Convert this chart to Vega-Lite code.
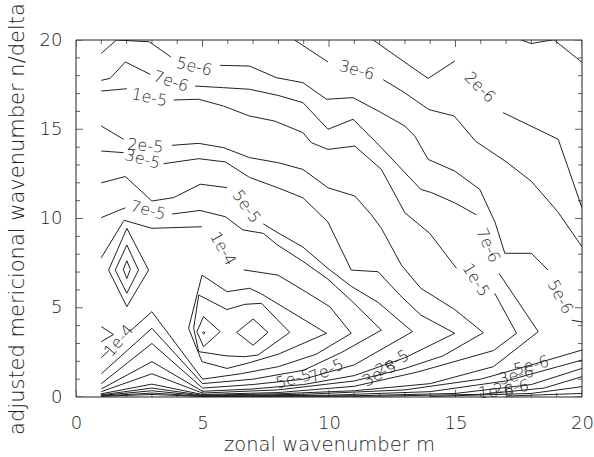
{
  "$schema": "https://vega.github.io/schema/vega-lite/v6.json",
  "width": 506,
  "height": 357,
  "autosize": "none",
  "padding": {"left": 76, "top": 40, "right": 12, "bottom": 60},
  "background": "white",
  "config": {
    "view": {"stroke": null},
    "font": "DejaVu Sans",
    "axis": {"ticks": false, "domain": false, "grid": false, "labelFlush": false, "labelFontSize": 18, "labelFontWeight": 200, "labelColor": "#222", "titleFontWeight": 200, "titleColor": "#222"},
    "axisBottom": {"labelPadding": 17, "titleFontSize": 19.5, "titlePadding": 3},
    "axisLeft": {"labelPadding": 14, "titleFontSize": 21, "titlePadding": 12}
  },
  "datasets": {
    "lines": [
      {"c":"t1","i":0,"m":17.6,"n":20},{"c":"t1","i":1,"m":18.0,"n":19.8},{"c":"t1","i":2,"m":18.6,"n":19.95},{"c":"t1","i":3,"m":18.85,"n":20},
      {"c":"t2","i":0,"m":18.9,"n":20},{"c":"t2","i":1,"m":20,"n":18.75},

      {"c":"a2e6","i":0,"m":11.75,"n":20},{"c":"a2e6","i":1,"m":13.39,"n":18.36},{"c":"a2e6","i":2,"m":13.92,"n":17.85},{"c":"a2e6","i":3,"m":14.97,"n":18.82},
      {"c":"b2e6","i":0,"m":16.88,"n":15.93},{"c":"b2e6","i":1,"m":19.06,"n":14.44},{"c":"b2e6","i":2,"m":20,"n":10.6},

      {"c":"a3e6","i":0,"m":8.64,"n":20},{"c":"a3e6","i":1,"m":9.96,"n":18.77},
      {"c":"b3e6","i":0,"m":12.14,"n":17.78},{"c":"b3e6","i":1,"m":12.93,"n":17.1},{"c":"b3e6","i":2,"m":13.95,"n":16.1},{"c":"b3e6","i":3,"m":14.95,"n":15.74},{"c":"b3e6","i":4,"m":15.8,"n":14.32},{"c":"b3e6","i":5,"m":17.0,"n":13.18},{"c":"b3e6","i":6,"m":18.0,"n":12.08},{"c":"b3e6","i":7,"m":19.03,"n":10.4},{"c":"b3e6","i":8,"m":20,"n":8.42},

      {"c":"a5e6","i":0,"m":1,"n":19.25},{"c":"a5e6","i":1,"m":1.6,"n":20},{"c":"a5e6","i":2,"m":2.9,"n":19.9},{"c":"a5e6","i":3,"m":3.75,"n":19.05},
      {"c":"b5e6","i":0,"m":5.7,"n":18.58},{"c":"b5e6","i":1,"m":6.86,"n":18.54},{"c":"b5e6","i":2,"m":7.92,"n":17.89},{"c":"b5e6","i":3,"m":8.97,"n":17.61},{"c":"b5e6","i":4,"m":9.9,"n":16.68},{"c":"b5e6","i":5,"m":10.95,"n":16.77},{"c":"b5e6","i":6,"m":12.07,"n":15.93},{"c":"b5e6","i":7,"m":13.0,"n":15.18},{"c":"b5e6","i":8,"m":13.4,"n":14.6},{"c":"b5e6","i":9,"m":13.92,"n":13.31},{"c":"b5e6","i":10,"m":14.97,"n":12.66},{"c":"b5e6","i":11,"m":15.96,"n":11.63},{"c":"b5e6","i":12,"m":16.56,"n":9.8},{"c":"b5e6","i":13,"m":16.95,"n":8.05},{"c":"b5e6","i":14,"m":18.0,"n":8.05},{"c":"b5e6","i":15,"m":18.66,"n":7.11},
      {"c":"c5e6","i":0,"m":19.6,"n":4.3},{"c":"c5e6","i":1,"m":20,"n":4.2},

      {"c":"a7e6","i":0,"m":1,"n":17.74},{"c":"a7e6","i":1,"m":1.35,"n":17.85},{"c":"a7e6","i":2,"m":1.95,"n":18.77},{"c":"a7e6","i":3,"m":2.93,"n":18.08},
      {"c":"b7e6","i":0,"m":4.71,"n":17.42},{"c":"b7e6","i":1,"m":5.83,"n":17.33},{"c":"b7e6","i":2,"m":6.86,"n":17.24},{"c":"b7e6","i":3,"m":7.98,"n":16.9},{"c":"b7e6","i":4,"m":8.97,"n":16.49},{"c":"b7e6","i":5,"m":9.96,"n":15.0},{"c":"b7e6","i":6,"m":10.95,"n":15.56},{"c":"b7e6","i":7,"m":11.94,"n":14.16},{"c":"b7e6","i":8,"m":13.0,"n":12.57},{"c":"b7e6","i":9,"m":13.63,"n":11.63},{"c":"b7e6","i":10,"m":14.05,"n":11.45},{"c":"b7e6","i":11,"m":14.97,"n":10.88},{"c":"b7e6","i":12,"m":15.83,"n":10.2},
      {"c":"c7e6","i":0,"m":16.72,"n":6.93},{"c":"c7e6","i":1,"m":18.27,"n":3.66},{"c":"c7e6","i":2,"m":16.5,"n":1.7},{"c":"c7e6","i":3,"m":14,"n":0.75},{"c":"c7e6","i":4,"m":11,"n":0.35},{"c":"c7e6","i":5,"m":8,"n":0.18},{"c":"c7e6","i":6,"m":5,"n":0.1},{"c":"c7e6","i":7,"m":3,"n":0.5},{"c":"c7e6","i":8,"m":1,"n":0.12},

      {"c":"a1e5","i":0,"m":1,"n":17.14},{"c":"a1e5","i":1,"m":2.01,"n":17.27},
      {"c":"b1e5","i":0,"m":3.86,"n":16.64},{"c":"b1e5","i":1,"m":4.85,"n":16.68},{"c":"b1e5","i":2,"m":5.83,"n":16.3},{"c":"b1e5","i":3,"m":6.86,"n":15.74},{"c":"b1e5","i":4,"m":7.85,"n":15.46},{"c":"b1e5","i":5,"m":8.97,"n":14.81},{"c":"b1e5","i":6,"m":9.3,"n":14.25},{"c":"b1e5","i":7,"m":9.96,"n":13.87},{"c":"b1e5","i":8,"m":11.02,"n":14.06},{"c":"b1e5","i":9,"m":12.07,"n":12.75},{"c":"b1e5","i":10,"m":13.0,"n":10.32},{"c":"b1e5","i":11,"m":13.98,"n":9.17},{"c":"b1e5","i":12,"m":15.04,"n":7.21},
      {"c":"c1e5","i":0,"m":16.55,"n":5.81},{"c":"c1e5","i":1,"m":17.41,"n":3.57},{"c":"c1e5","i":2,"m":16.5,"n":2.6},{"c":"c1e5","i":3,"m":13.5,"n":1.4},{"c":"c1e5","i":4,"m":11,"n":0.6},{"c":"c1e5","i":5,"m":8,"n":0.25},{"c":"c1e5","i":6,"m":5,"n":0.14},{"c":"c1e5","i":7,"m":3,"n":0.72},{"c":"c1e5","i":8,"m":1,"n":0.18},

      {"c":"a2e5","i":0,"m":1,"n":15.18},{"c":"a2e5","i":1,"m":1.88,"n":14.44},
      {"c":"b2e5","i":0,"m":3.79,"n":14.1},{"c":"b2e5","i":1,"m":4.85,"n":14.21},{"c":"b2e5","i":2,"m":5.83,"n":13.97},{"c":"b2e5","i":3,"m":6.86,"n":13.41},{"c":"b2e5","i":4,"m":7.98,"n":13.13},{"c":"b2e5","i":5,"m":8.97,"n":12.75},{"c":"b2e5","i":6,"m":9.96,"n":11.72},{"c":"b2e5","i":7,"m":11.02,"n":11.26},{"c":"b2e5","i":8,"m":11.68,"n":10.2},{"c":"b2e5","i":9,"m":12.07,"n":9.45},{"c":"b2e5","i":10,"m":12.86,"n":7.39},{"c":"b2e5","i":11,"m":13.63,"n":6.09},{"c":"b2e5","i":12,"m":14.97,"n":4.9},{"c":"b2e5","i":13,"m":16.1,"n":3.6},{"c":"b2e5","i":14,"m":14.5,"n":2.3},{"c":"b2e5","i":15,"m":13,"n":1.6},{"c":"b2e5","i":16,"m":11,"n":0.9},{"c":"b2e5","i":17,"m":8,"n":0.4},{"c":"b2e5","i":18,"m":5,"n":0.22},{"c":"b2e5","i":19,"m":3,"n":1.3},{"c":"b2e5","i":20,"m":1,"n":0.3},

      {"c":"a3e5","i":0,"m":1,"n":13.78},{"c":"a3e5","i":1,"m":1.88,"n":13.69},
      {"c":"b3e5","i":0,"m":3.46,"n":13.07},{"c":"b3e5","i":1,"m":4.85,"n":13.35},{"c":"b3e5","i":2,"m":5.9,"n":13.17},{"c":"b3e5","i":3,"m":6.86,"n":12.3},{"c":"b3e5","i":4,"m":7.98,"n":11.72},{"c":"b3e5","i":5,"m":8.97,"n":11.16},{"c":"b3e5","i":6,"m":9.96,"n":9.8},{"c":"b3e5","i":7,"m":10.88,"n":7.11},{"c":"b3e5","i":8,"m":11.94,"n":7.02},{"c":"b3e5","i":9,"m":12.8,"n":5.71},{"c":"b3e5","i":10,"m":13.63,"n":4.59},{"c":"b3e5","i":11,"m":14.97,"n":3.57},{"c":"b3e5","i":12,"m":13,"n":2.2},{"c":"b3e5","i":13,"m":11,"n":1.2},{"c":"b3e5","i":14,"m":9,"n":0.7},{"c":"b3e5","i":15,"m":7,"n":0.45},{"c":"b3e5","i":16,"m":5,"n":0.32},{"c":"b3e5","i":17,"m":3,"n":1.98},{"c":"b3e5","i":18,"m":1,"n":0.45},

      {"c":"a5e5","i":0,"m":1,"n":12.0},{"c":"a5e5","i":1,"m":1.95,"n":12.35},{"c":"a5e5","i":2,"m":3.0,"n":10.98},{"c":"a5e5","i":3,"m":3.86,"n":11.17},{"c":"a5e5","i":4,"m":4.91,"n":11.92},{"c":"a5e5","i":5,"m":5.97,"n":11.73},
      {"c":"b5e5","i":0,"m":7.4,"n":9.7},{"c":"b5e5","i":1,"m":7.98,"n":9.2},{"c":"b5e5","i":2,"m":8.97,"n":8.4},{"c":"b5e5","i":3,"m":9.96,"n":7.2},{"c":"b5e5","i":4,"m":10.88,"n":6.2},{"c":"b5e5","i":5,"m":11.94,"n":5.3},{"c":"b5e5","i":6,"m":13.3,"n":3.66},{"c":"b5e5","i":7,"m":11,"n":1.8},{"c":"b5e5","i":8,"m":9,"n":1.0},{"c":"b5e5","i":9,"m":7,"n":0.7},{"c":"b5e5","i":10,"m":5,"n":0.5},{"c":"b5e5","i":11,"m":3,"n":3.0},{"c":"b5e5","i":12,"m":1,"n":0.75},

      {"c":"a7e5","i":0,"m":1,"n":10.05},{"c":"a7e5","i":1,"m":1.95,"n":10.6},
      {"c":"b7e5","i":0,"m":3.79,"n":10.25},{"c":"b7e5","i":1,"m":4.9,"n":10.45},{"c":"b7e5","i":2,"m":5.9,"n":10.1},{"c":"b7e5","i":3,"m":6.6,"n":9.36},{"c":"b7e5","i":4,"m":7.4,"n":9.17},{"c":"b7e5","i":5,"m":7.98,"n":8.5},{"c":"b7e5","i":6,"m":8.97,"n":7.6},{"c":"b7e5","i":7,"m":9.96,"n":6.6},{"c":"b7e5","i":8,"m":10.88,"n":5.4},{"c":"b7e5","i":9,"m":12.07,"n":3.75},{"c":"b7e5","i":10,"m":10.5,"n":2.5},{"c":"b7e5","i":11,"m":9,"n":1.5},{"c":"b7e5","i":12,"m":7,"n":1.0},{"c":"b7e5","i":13,"m":5,"n":0.75},{"c":"b7e5","i":14,"m":3,"n":3.85},{"c":"b7e5","i":15,"m":1,"n":1.3},

      {"c":"a1e4","i":0,"m":1,"n":7.8},{"c":"a1e4","i":1,"m":1.9,"n":9.9},{"c":"a1e4","i":2,"m":3.0,"n":9.45},{"c":"a1e4","i":3,"m":4.98,"n":9.54},
      {"c":"b1e4","i":0,"m":6.63,"n":7.12},{"c":"b1e4","i":1,"m":7.98,"n":6.83},{"c":"b1e4","i":2,"m":8.97,"n":5.99},{"c":"b1e4","i":3,"m":10.03,"n":5.06},{"c":"b1e4","i":4,"m":10.88,"n":3.57},{"c":"b1e4","i":5,"m":9.5,"n":2.4},{"c":"b1e4","i":6,"m":8,"n":1.7},{"c":"b1e4","i":7,"m":6.5,"n":1.3},{"c":"b1e4","i":8,"m":5,"n":1.0},{"c":"b1e4","i":9,"m":3,"n":4.78},{"c":"b1e4","i":10,"m":2.15,"n":3.7},
      {"c":"c1e4","i":0,"m":1.3,"n":2.6},{"c":"c1e4","i":1,"m":1,"n":2.2},

      {"c":"p2a","i":0,"m":4.98,"n":6.83},{"c":"p2a","i":1,"m":5.97,"n":5.9},{"c":"p2a","i":2,"m":6.86,"n":6.09},{"c":"p2a","i":3,"m":7.3,"n":5.8},{"c":"p2a","i":4,"m":9.9,"n":3.57},{"c":"p2a","i":5,"m":8,"n":2.4},{"c":"p2a","i":6,"m":6.8,"n":1.9},{"c":"p2a","i":7,"m":5.97,"n":1.6},{"c":"p2a","i":8,"m":4.98,"n":1.98},{"c":"p2a","i":9,"m":4.45,"n":3.85},{"c":"p2a","i":10,"m":4.98,"n":6.83},
      {"c":"p2b","i":0,"m":4.85,"n":5.71},{"c":"p2b","i":1,"m":5.97,"n":4.9},{"c":"p2b","i":2,"m":6.67,"n":5.19},{"c":"p2b","i":3,"m":7.33,"n":5.25},{"c":"p2b","i":4,"m":8.45,"n":3.62},{"c":"p2b","i":5,"m":7.19,"n":2.35},{"c":"p2b","i":6,"m":6.67,"n":2.26},{"c":"p2b","i":7,"m":5.97,"n":2.3},{"c":"p2b","i":8,"m":4.85,"n":2.54},{"c":"p2b","i":9,"m":4.65,"n":3.85},{"c":"p2b","i":10,"m":4.85,"n":5.71},
      {"c":"p2c","i":0,"m":4.78,"n":3.66},{"c":"p2c","i":1,"m":5.04,"n":4.5},{"c":"p2c","i":2,"m":5.7,"n":3.66},{"c":"p2c","i":3,"m":5.04,"n":2.82},{"c":"p2c","i":4,"m":4.78,"n":3.66},
      {"c":"p2d","i":0,"m":6.35,"n":3.62},{"c":"p2d","i":1,"m":7.0,"n":4.37},{"c":"p2d","i":2,"m":7.59,"n":3.62},{"c":"p2d","i":3,"m":7.0,"n":2.9},{"c":"p2d","i":4,"m":6.35,"n":3.62},
      {"c":"p2e","i":0,"m":5.0,"n":3.6},{"c":"p2e","i":1,"m":5.05,"n":3.66},{"c":"p2e","i":2,"m":5.1,"n":3.6},{"c":"p2e","i":3,"m":5.05,"n":3.54},{"c":"p2e","i":4,"m":5.0,"n":3.6},

      {"c":"p1a","i":0,"m":1.29,"n":7.11},{"c":"p1a","i":1,"m":2.01,"n":9.45},{"c":"p1a","i":2,"m":2.87,"n":7.11},{"c":"p1a","i":3,"m":2.01,"n":5.06},{"c":"p1a","i":4,"m":1.29,"n":7.11},
      {"c":"p1b","i":0,"m":1.55,"n":7.11},{"c":"p1b","i":1,"m":2.01,"n":8.52},{"c":"p1b","i":2,"m":2.47,"n":7.11},{"c":"p1b","i":3,"m":2.01,"n":5.81},{"c":"p1b","i":4,"m":1.55,"n":7.11},
      {"c":"p1c","i":0,"m":1.87,"n":7.15},{"c":"p1c","i":1,"m":2.01,"n":7.63},{"c":"p1c","i":2,"m":2.15,"n":7.15},{"c":"p1c","i":3,"m":2.01,"n":6.64},{"c":"p1c","i":4,"m":1.87,"n":7.15},
      {"c":"lft","i":0,"m":1,"n":3.94},{"c":"lft","i":1,"m":1.48,"n":3.5},{"c":"lft","i":2,"m":1,"n":3.1},

      {"c":"l5e6","i":0,"m":1,"n":0.09},{"c":"l5e6","i":1,"m":3,"n":0.35},{"c":"l5e6","i":2,"m":5,"n":0.07},{"c":"l5e6","i":3,"m":9,"n":0.15},{"c":"l5e6","i":4,"m":13,"n":0.4},{"c":"l5e6","i":5,"m":16,"n":1.0},{"c":"l5e6","i":6,"m":18,"n":1.8},{"c":"l5e6","i":7,"m":20,"n":2.63},
      {"c":"l3e6","i":0,"m":1,"n":0.06},{"c":"l3e6","i":1,"m":3,"n":0.22},{"c":"l3e6","i":2,"m":5,"n":0.05},{"c":"l3e6","i":3,"m":10,"n":0.1},{"c":"l3e6","i":4,"m":14,"n":0.3},{"c":"l3e6","i":5,"m":17,"n":0.9},{"c":"l3e6","i":6,"m":20,"n":2.07},
      {"c":"l2e6","i":0,"m":1,"n":0.04},{"c":"l2e6","i":1,"m":3,"n":0.14},{"c":"l2e6","i":2,"m":5,"n":0.03},{"c":"l2e6","i":3,"m":11,"n":0.07},{"c":"l2e6","i":4,"m":15,"n":0.2},{"c":"l2e6","i":5,"m":18,"n":0.7},{"c":"l2e6","i":6,"m":20,"n":1.6},
      {"c":"l1e6","i":0,"m":5,"n":0.02},{"c":"l1e6","i":1,"m":12,"n":0.05},{"c":"l1e6","i":2,"m":16,"n":0.15},{"c":"l1e6","i":3,"m":18.5,"n":0.5},{"c":"l1e6","i":4,"m":20,"n":1.14},
      {"c":"l8e7","i":0,"m":14,"n":0.03},{"c":"l8e7","i":1,"m":18,"n":0.2},{"c":"l8e7","i":2,"m":20,"n":0.58},
      {"c":"l5e7","i":0,"m":17,"n":0.05},{"c":"l5e7","i":1,"m":20,"n":0.2}
    ],
    "labels": [
      {"t":"2e-6","m":15.96,"n":17.34,"tilt":45},
      {"t":"3e-6","m":11.1,"n":18.3,"tilt":15},
      {"t":"5e-6","m":4.67,"n":18.5,"tilt":13},
      {"t":"5e-6","m":19.13,"n":5.6,"tilt":62},
      {"t":"7e-6","m":3.75,"n":17.67,"tilt":18},
      {"t":"7e-6","m":16.28,"n":8.5,"tilt":66},
      {"t":"1e-5","m":2.9,"n":16.77,"tilt":12},
      {"t":"1e-5","m":15.8,"n":6.55,"tilt":58},
      {"t":"2e-5","m":2.74,"n":14.06,"tilt":5},
      {"t":"3e-5","m":2.63,"n":13.31,"tilt":15},
      {"t":"5e-5","m":6.73,"n":10.66,"tilt":55},
      {"t":"7e-5","m":2.85,"n":10.45,"tilt":15},
      {"t":"1e-4","m":5.8,"n":8.3,"tilt":60},
      {"t":"1e-4","m":1.7,"n":3.15,"tilt":-50},
      {"t":"5e-5","m":8.6,"n":1.0,"tilt":-15},
      {"t":"7e-5","m":9.9,"n":1.45,"tilt":-25},
      {"t":"3e-5","m":12.0,"n":1.3,"tilt":-30},
      {"t":"2e-5","m":12.5,"n":1.9,"tilt":-30},
      {"t":"5e-6","m":18.0,"n":1.75,"tilt":-15},
      {"t":"3e-6","m":17.4,"n":1.2,"tilt":-15},
      {"t":"2e-6","m":17.2,"n":0.5,"tilt":-8},
      {"t":"1e-6","m":16.6,"n":0.3,"tilt":-5}
    ],
    "ticks": [
      {"v":0,"k":"major"},{"v":1,"k":"minor"},{"v":2,"k":"minor"},{"v":3,"k":"minor"},{"v":4,"k":"minor"},
      {"v":5,"k":"major"},{"v":6,"k":"minor"},{"v":7,"k":"minor"},{"v":8,"k":"minor"},{"v":9,"k":"minor"},
      {"v":10,"k":"major"},{"v":11,"k":"minor"},{"v":12,"k":"minor"},{"v":13,"k":"minor"},{"v":14,"k":"minor"},
      {"v":15,"k":"major"},{"v":16,"k":"minor"},{"v":17,"k":"minor"},{"v":18,"k":"minor"},{"v":19,"k":"minor"},
      {"v":20,"k":"major"}
    ]
  },
  "layer": [
    {
      "data": {"name": "lines"},
      "mark": {"type": "line", "color": "#222", "strokeWidth": 1, "clip": true},
      "encoding": {
        "x": {"field": "m", "type": "quantitative", "scale": {"domain": [0, 20], "nice": false, "zero": false},
          "title": "zonal wavenumber m", "axis": {"values": [0, 5, 10, 15, 20]}},
        "y": {"field": "n", "type": "quantitative", "scale": {"domain": [0, 20], "nice": false, "zero": false},
          "title": "adjusted mericional wavenumber n/delta", "axis": {"values": [0, 5, 10, 15, 20]}},
        "detail": {"field": "c"},
        "order": {"field": "i", "type": "quantitative"}
      }
    },
    {
      "data": {"name": "labels"},
      "mark": {"type": "text", "fontSize": 16, "fontWeight": 200, "color": "#222", "align": "center", "baseline": "middle"},
      "encoding": {
        "x": {"field": "m", "type": "quantitative", "title": "zonal wavenumber m", "axis": {"values": [0, 5, 10, 15, 20]}},
        "y": {"field": "n", "type": "quantitative", "title": "adjusted mericional wavenumber n/delta", "axis": {"values": [0, 5, 10, 15, 20]}},
        "text": {"field": "t"},
        "angle": {"field": "tilt", "type": "quantitative", "scale": null}
      }
    },
    {
      "data": {"values": [{}]},
      "mark": {"type": "rect", "fillOpacity": 0, "stroke": "#222", "strokeWidth": 1},
      "encoding": {
        "x": {"datum": 0, "type": "quantitative", "title": "zonal wavenumber m", "axis": {"values": [0, 5, 10, 15, 20]}},
        "x2": {"datum": 20},
        "y": {"datum": 0, "type": "quantitative", "title": "adjusted mericional wavenumber n/delta", "axis": {"values": [0, 5, 10, 15, 20]}},
        "y2": {"datum": 20}
      }
    },
    {
      "data": {"name": "ticks"},
      "mark": {"type": "tick", "orient": "vertical", "color": "#222", "thickness": 1, "clip": true},
      "encoding": {
        "x": {"field": "v", "type": "quantitative", "title": "zonal wavenumber m", "axis": {"values": [0, 5, 10, 15, 20]}},
        "y": {"datum": 0, "type": "quantitative", "title": "adjusted mericional wavenumber n/delta", "axis": {"values": [0, 5, 10, 15, 20]}},
        "size": {"field": "k", "type": "nominal", "scale": {"domain": ["major", "minor"], "range": [14, 8]}, "legend": null}
      }
    },
    {
      "data": {"name": "ticks"},
      "mark": {"type": "tick", "orient": "vertical", "color": "#222", "thickness": 1, "clip": true},
      "encoding": {
        "x": {"field": "v", "type": "quantitative", "title": "zonal wavenumber m", "axis": {"values": [0, 5, 10, 15, 20]}},
        "y": {"datum": 20, "type": "quantitative", "title": "adjusted mericional wavenumber n/delta", "axis": {"values": [0, 5, 10, 15, 20]}},
        "size": {"field": "k", "type": "nominal", "scale": {"domain": ["major", "minor"], "range": [14, 8]}, "legend": null}
      }
    },
    {
      "data": {"name": "ticks"},
      "mark": {"type": "tick", "orient": "horizontal", "color": "#222", "thickness": 1, "clip": true},
      "encoding": {
        "y": {"field": "v", "type": "quantitative", "title": "adjusted mericional wavenumber n/delta", "axis": {"values": [0, 5, 10, 15, 20]}},
        "x": {"datum": 0, "type": "quantitative", "title": "zonal wavenumber m", "axis": {"values": [0, 5, 10, 15, 20]}},
        "size": {"field": "k", "type": "nominal", "scale": {"domain": ["major", "minor"], "range": [14, 8]}, "legend": null}
      }
    },
    {
      "data": {"name": "ticks"},
      "mark": {"type": "tick", "orient": "horizontal", "color": "#222", "thickness": 1, "clip": true},
      "encoding": {
        "y": {"field": "v", "type": "quantitative", "title": "adjusted mericional wavenumber n/delta", "axis": {"values": [0, 5, 10, 15, 20]}},
        "x": {"datum": 20, "type": "quantitative", "title": "zonal wavenumber m", "axis": {"values": [0, 5, 10, 15, 20]}},
        "size": {"field": "k", "type": "nominal", "scale": {"domain": ["major", "minor"], "range": [14, 8]}, "legend": null}
      }
    }
  ]
}
